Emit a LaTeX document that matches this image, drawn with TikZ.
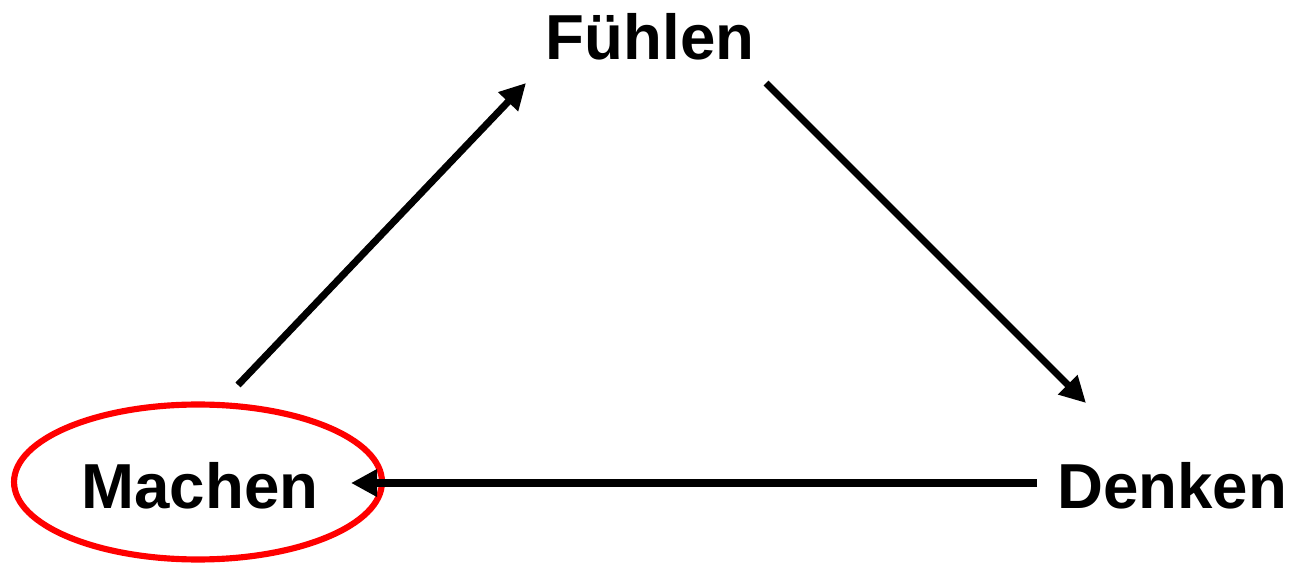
\documentclass[tikz,border=0pt]{standalone}
\usepackage{fontspec}
\setmainfont{Liberation Sans}
\usetikzlibrary{shapes.geometric, arrows.meta}
\usepackage{xcolor}
\definecolor{CycleRed}{HTML}{FF0000}
\definecolor{CycleBlack}{HTML}{000000}
\tikzset{
    % Text styles
    stage/.style={
        font=\fontsize{36.2}{43}\selectfont\bfseries,
        inner sep=0pt,
        anchor=base
    },
    highlight/.style={
        ellipse,
        draw=CycleRed,
        line width=3.5pt,
        minimum width=7.36cm,
        minimum height=3.1cm
    },
    % Arrow style
    arrow/.style={
        -{Triangle[length=0.52cm, width=0.52cm]},
        line width=4pt,
        draw=CycleBlack
    }
}

\begin{document}
\begin{tikzpicture}[x=0.02cm, y=-0.02cm]
    \useasboundingbox (0,0) rectangle (1291,563);

    \node[stage] (fuehlen) at (650,60) {Fühlen};
    \node[stage] (machen) at (200,508) {Machen};
    \node[stage] (denken) at (1172,508) {Denken};

    \node[highlight] (ring) at (198,482) {};

    \coordinate (m1) at (238,385);
    \coordinate (f1) at (526,83);
    \coordinate (f2) at (766,83);
    \coordinate (d1) at (1086,403);
    \coordinate (d2) at (1037,483);
    \coordinate (m2) at (351,483);

    \draw[arrow] (m1) -- (f1);
    \draw[arrow] (f2) -- (d1);
    \draw[arrow] (d2) -- (m2);
\end{tikzpicture}
\end{document}
